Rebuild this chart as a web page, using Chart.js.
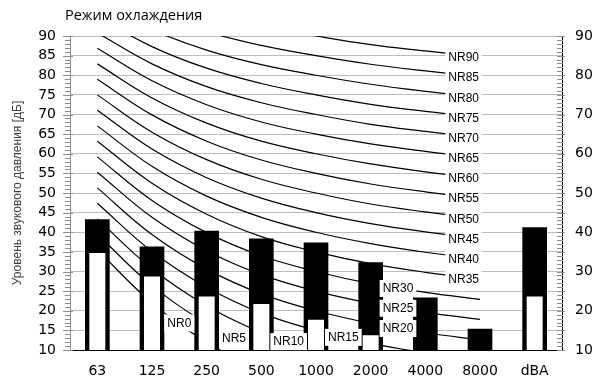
<!DOCTYPE html>
<html>
<head>
<meta charset="utf-8">
<script src="https://cdn.jsdelivr.net/npm/chart.js@4/dist/chart.umd.min.js"></script>
<style>
  html, body { margin: 0; padding: 0; background: #fff; }
  canvas { display: block; }
</style>
</head>
<body>
<canvas id="chart" width="595" height="381"></canvas>
<script>
// Полосы частот (октавы) + суммарный уровень
const bands = ['63', '125', '250', '500', '1000', '2000', '4000', '8000', 'dBA'];

// Уровень звукового давления, дБ (верх чёрного столбца)
const levelTotal = [43.2, 36.3, 40.3, 38.3, 37.3, 32.3, 23.3, 15.3, 41.2];
// Нижняя (белая) часть столбца
const levelInner = [35.5, 29.5, 24.4, 22.5, 18.5, 14.5, null, null, 24.4];

// Кривые NR, значения для 63 ... 8000 Гц
const nrLevels = [0, 5, 10, 15, 20, 25, 30, 35, 40, 45, 50, 55, 60, 65, 70, 75, 80, 85, 90];
const nrCurves = [
    [35.5, 22.0, 12.0, 4.8, 0, -3.5, -6.1, -8.0],
    [39.5, 26.4, 16.7, 9.7, 5, 1.6, -1.0, -2.9],
    [43.4, 30.7, 21.3, 14.5, 10, 6.6, 4.2, 2.3],
    [47.4, 35.1, 26.0, 19.4, 15, 11.7, 9.3, 7.5],
    [51.3, 39.4, 30.6, 24.3, 20, 16.8, 14.4, 12.6],
    [55.3, 43.8, 35.3, 29.2, 25, 21.9, 19.6, 17.8],
    [59.2, 48.1, 39.9, 34.0, 30, 26.9, 24.7, 22.9],
    [63.2, 52.5, 44.6, 38.9, 35, 32.0, 29.8, 28.1],
    [67.1, 56.8, 49.2, 43.8, 40, 37.1, 34.9, 33.2],
    [71.1, 61.2, 53.9, 48.7, 45, 42.2, 40.1, 38.4],
    [75.0, 65.5, 58.5, 53.5, 50, 47.2, 45.2, 43.5],
    [79.0, 69.9, 63.2, 58.4, 55, 52.3, 50.3, 48.7],
    [82.9, 74.2, 67.8, 63.2, 60, 57.4, 55.4, 53.8],
    [86.9, 78.6, 72.5, 68.1, 65, 62.5, 60.6, 59.0],
    [90.8, 82.9, 77.1, 73.0, 70, 67.5, 65.7, 64.1],
    [94.8, 87.3, 81.8, 77.9, 75, 72.6, 70.8, 69.3],
    [98.7, 91.6, 86.4, 82.7, 80, 77.7, 75.9, 74.4],
    [102.7, 96.0, 91.1, 87.6, 85, 82.8, 81.1, 79.6],
    [106.6, 100.3, 95.7, 92.5, 90, 87.8, 86.2, 84.7]
];

// Где ставить подпись кривой (индекс полосы, дробный = между полосами)
const nrLabelAt = [1.5, 2.5, 3.5, 4.5, 5.5, 5.5, 5.5, 7, 7, 7, 7, 7, 7, 7, 7, 7, 7, 7, 7];

const TICK_FONT = { family: '"DejaVu Sans", sans-serif', size: 14 };

// Подписи NR на белом фоне
const nrLabelsPlugin = {
    id: 'nrLabels',
    afterDatasetsDraw(chart) {
        const ctx = chart.ctx;
        const x = chart.scales.x;
        const y = chart.scales.y;
        ctx.save();
        ctx.font = '12px "Liberation Sans", Arial, sans-serif';
        ctx.textBaseline = 'middle';
        ctx.textAlign = 'center';
        nrLevels.forEach((lvl, i) => {
            const at = nrLabelAt[i];
            const i0 = Math.floor(at);
            const i1 = Math.ceil(at);
            const v = nrCurves[i][i0] + (nrCurves[i][i1] - nrCurves[i][i0]) * (at - i0);
            const text = 'NR' + lvl;
            const w = ctx.measureText(text).width;
            let cx = x.getPixelForValue(at);
            if (at === 7) cx -= w / 2 + 1;
            const cy = y.getPixelForValue(v);
            ctx.fillStyle = '#fff';
            ctx.fillRect(cx - w / 2 - 3, cy - 8, w + 6, 17);
            ctx.fillStyle = '#000';
            ctx.fillText(text, cx, cy + 1);
        });
        ctx.restore();
    }
};

// Мелкие деления на обеих осях Y и заголовок
const axisExtrasPlugin = {
    id: 'axisExtras',
    afterDraw(chart) {
        const ctx = chart.ctx;
        const a = chart.chartArea;
        const y = chart.scales.y;
        ctx.save();
        ctx.strokeStyle = '#8c8c8c';
        ctx.lineWidth = 1;
        for (let v = y.min; v <= y.max; v++) {
            const py = Math.round(y.getPixelForValue(v)) + 0.5;
            const major = v % 5 === 0;
            ctx.beginPath();
            ctx.moveTo(a.left - (major ? 7 : 5), py);
            ctx.lineTo(a.left + (major ? 3 : 0), py);
            ctx.moveTo(a.right - 5, py);
            ctx.lineTo(a.right + (major ? 3 : 1), py);
            ctx.stroke();
        }
        ctx.fillStyle = '#000';
        ctx.font = '14.5px "Open Sans", sans-serif';
        ctx.textAlign = 'left';
        ctx.textBaseline = 'middle';
        ctx.fillText('Режим охлаждения', 65, 16);
        ctx.restore();
    }
};

function buildDatasets() {
    const sets = [
        {
            type: 'bar',
            label: 'inner',
            data: levelInner,
            backgroundColor: '#fff',
            borderColor: '#000',
            borderWidth: { left: 4, right: 4, top: 3, bottom: 3 },
            borderSkipped: false,
            inflateAmount: 0,
            barThickness: 24,
            grouped: false,
            order: 0
        },
        {
            type: 'bar',
            label: 'total',
            data: levelTotal,
            backgroundColor: '#000',
            borderWidth: 0,
            barThickness: 24,
            grouped: false,
            order: 1
        }
    ];
    nrCurves.forEach((curve, i) => {
        sets.push({
            type: 'line',
            label: 'NR' + nrLevels[i],
            data: curve,
            borderColor: '#000',
            borderWidth: 1.2,
            pointRadius: 0,
            tension: 0.4,
            fill: false,
            order: 2
        });
    });
    return sets;
}

function initChart() {
    const ctx = document.getElementById('chart').getContext('2d');
    new Chart(ctx, {
        type: 'bar',
        data: {
            labels: bands,
            datasets: buildDatasets()
        },
        options: {
            responsive: false,
            animation: false,
            devicePixelRatio: 1,
            layout: { padding: { top: 36, left: 0, right: 0, bottom: 0 } },
            elements: { line: { capBezierPoints: false } },
            plugins: {
                legend: { display: false },
                tooltip: { enabled: false }
            },
            scales: {
                x: {
                    type: 'category',
                    offset: true,
                    grid: { display: false, drawTicks: false },
                    border: { color: '#000', width: 1 },
                    ticks: { color: '#000', font: TICK_FONT, padding: 13, maxRotation: 0 },
                    afterFit: (s) => { s.height = 31; }
                },
                y: {
                    position: 'left',
                    min: 10,
                    max: 90,
                    grid: { color: '#bdbdbd', drawTicks: false },
                    border: { color: '#8c8c8c', width: 1 },
                    ticks: { stepSize: 5, autoSkip: false, color: '#000', font: TICK_FONT, padding: 14 },
                    title: {
                        display: true,
                        text: 'Уровень звукового давления [дБ]',
                        color: '#404040',
                        font: { family: '"Liberation Sans", Arial, sans-serif', size: 12 },
                        padding: { top: 10, bottom: 0 }
                    },
                    afterFit: (s) => { s.width = 70; }
                },
                y2: {
                    position: 'right',
                    min: 10,
                    max: 90,
                    grid: { drawOnChartArea: false, drawTicks: false },
                    border: { color: '#000', width: 1 },
                    ticks: { stepSize: 10, autoSkip: false, color: '#000', font: TICK_FONT, padding: 13 },
                    afterFit: (s) => { s.width = 33; }
                }
            }
        },
        plugins: [nrLabelsPlugin, axisExtrasPlugin]
    });
}

document.addEventListener('DOMContentLoaded', initChart);
</script>
</body>
</html>
